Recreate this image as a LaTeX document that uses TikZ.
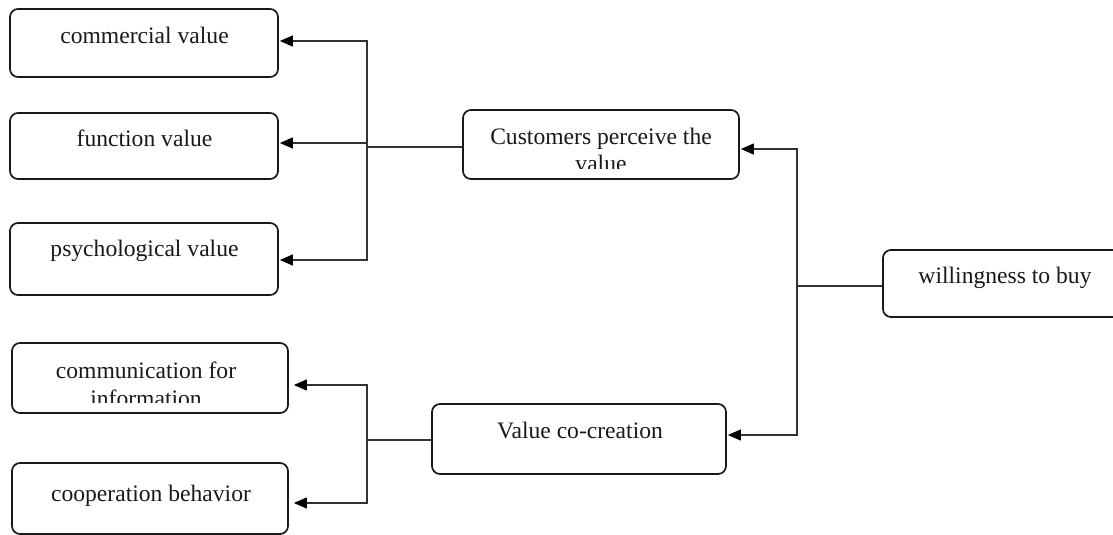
\documentclass[tikz,border=0pt]{standalone}
\usepackage{fontspec}
\setmainfont{Liberation Serif}
\usetikzlibrary{arrows.meta,calc}
\tikzset{
  box/.style={draw=black!90, line width=1.7pt, rounded corners=8pt, inner sep=0pt},
  txt/.style={font=\fontsize{23.6}{27.5}\selectfont, inner sep=0pt, anchor=base, text=black!90},
  conn/.style={line width=1.1pt, draw=black!80},
  arr/.style={conn, -{Triangle[length=13pt,width=11pt,color=black]}}
}
\begin{document}
\begin{tikzpicture}[x=1pt,y=-1pt]
\useasboundingbox (0,0) rectangle (1113,535);
\clip (0,0) rectangle (1113,535);
% boxes
\node[box, minimum width=268pt, minimum height=68pt] (cv) at (144,43) {};
\node[box, minimum width=268pt, minimum height=66pt] (fv) at (144,146) {};
\node[box, minimum width=268pt, minimum height=72pt] (pv) at (144,259) {};
\node[box, minimum width=276pt, minimum height=69pt] (cpv) at (601,144.5) {};
\node[box, minimum width=247pt, minimum height=67pt] (wb) at (1006.5,283.5) {};
\node[box, minimum width=294pt, minimum height=70pt] (vc) at (579,439) {};
\node[box, minimum width=276pt, minimum height=70pt] (ci) at (150,378) {};
\node[box, minimum width=276pt, minimum height=71pt] (cb) at (150,498.5) {};
% texts
\node[txt] at (144.5,43.3) {commercial value};
\node[txt] at (144.5,146.7) {function value};
\node[txt] at (144.5,256.7) {psychological value};
\node[txt] at (1005,283) {willingness to buy};
\node[txt] at (580,438) {Value co-creation};
\node[txt] at (151,501.7) {cooperation behavior};
\node[txt] at (601,144) {Customers perceive the};
\node[txt] at (146,378) {communication for};
\begin{scope}
\clip (463,112) rectangle (739,168);
\node[txt] at (601,171.5) {value};
\end{scope}
\begin{scope}
\clip (12,345) rectangle (288,402);
\node[txt] at (146,406) {information};
\end{scope}
% junctions
\coordinate (j1) at (367,147);
\coordinate (j2) at (367,440);
\coordinate (j3) at (797,286);
% connectors
\draw[conn] (cpv.west |- j1) -- (j1);
\draw[arr] (j1) |- ($(cv.east)+(1,-2)$);
\draw[arr] (j1) |- ($(fv.east)+(1,-3)$);
\draw[arr] (j1) |- ($(pv.east)+(1,1)$);
\draw[conn] (vc.west |- j2) -- (j2);
\draw[arr] (j2) |- ($(ci.east)+(5,7)$);
\draw[arr] (j2) |- ($(cb.east)+(5,4.5)$);
\draw[conn] (wb.west |- j3) -- (j3);
\draw[arr] (j3) |- ($(cpv.east)+(1,4.5)$);
\draw[arr] (j3) |- ($(vc.east)+(1,-4)$);
\end{tikzpicture}
\end{document}
